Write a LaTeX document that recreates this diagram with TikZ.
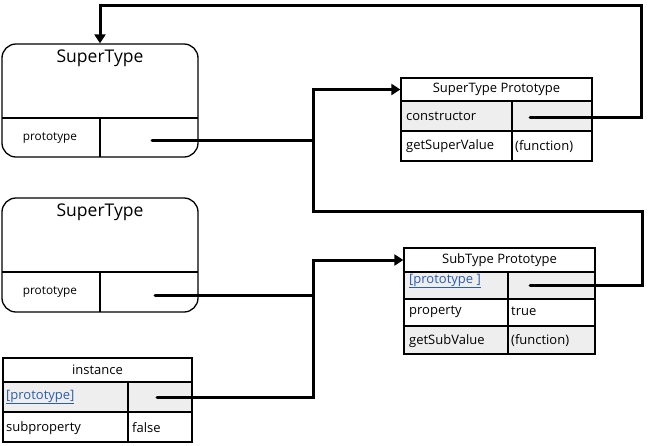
\documentclass[tikz,border=0pt]{standalone}
\usepackage{fontspec}
\setmainfont{Open Sans}
\usetikzlibrary{arrows.meta}
\definecolor{rowgray}{HTML}{EEEEEE}
\definecolor{linkblue}{HTML}{2A5DB0}
\begin{document}
\begin{tikzpicture}[x=1pt,y=-1pt,
  frame/.style={draw=black,line width=1.3pt,inner sep=0pt},
  cell/.style={draw=black,line width=1.3pt,inner sep=0pt},
  sep/.style={draw=black,line width=1.1pt},
  title/.style={font=\fontsize{17.5}{19}\selectfont},
  txt/.style={font=\fontsize{13}{15}\selectfont,inner sep=0pt},
  small/.style={font=\fontsize{11.8}{13}\selectfont,inner sep=0pt},
  lnk/.style={txt,text=linkblue},
  conn/.style={line width=3pt,line cap=round,line join=miter},
  arr/.style={-{Triangle[length=9pt,width=11pt]}}]
\useasboundingbox (0,0) rectangle (650,445);
\fill[white] (0,0) rectangle (650,445);

% ---- SuperType box 1
\node[frame,rounded corners=14pt,minimum width=196pt,minimum height=113pt] (st1) at (100,100.5) {};
\draw[sep] (2,118) -- (198,118);
\draw[sep] (100,118) -- (100,157);
\node[title] (st1t) at (100,58) {SuperType};
\node[small] (st1p) at (50,138) {prototype};
\coordinate (d1) at (152,140);

% ---- SuperType box 2
\node[frame,rounded corners=14pt,minimum width=196pt,minimum height=114pt] (st2) at (100,255) {};
\draw[sep] (2,272) -- (198,272);
\draw[sep] (100,272) -- (100,312);
\node[title] (st2t) at (100,212) {SuperType};
\node[small] (st2p) at (50,292) {prototype};
\coordinate (d2) at (155,295);

% ---- instance table
\node[cell,minimum width=189pt,minimum height=24pt] (ih) at (97.5,370) {};
\node[cell,fill=rowgray,minimum width=125pt,minimum height=30pt] (i1a) at (65.5,397) {};
\node[cell,fill=rowgray,minimum width=64pt,minimum height=30pt] (i1b) at (160,397) {};
\node[cell,minimum width=125pt,minimum height=30pt] (i2a) at (65.5,427) {};
\node[cell,minimum width=64pt,minimum height=30pt] (i2b) at (160,427) {};
\node[txt] at (ih) {instance};
\node[lnk,anchor=west] (i1t) at (6,397) {\underline{[prototype]}};
\node[txt,anchor=west] (i2t) at (6,428) {subproperty};
\node[txt,anchor=west] (i2v) at (132,428) {false};
\coordinate (d3) at (157,397);

% ---- SuperType Prototype table
\node[cell,minimum width=191pt,minimum height=23pt] (sph) at (496.5,89.5) {};
\node[cell,fill=rowgray,minimum width=111pt,minimum height=30pt] (sp1a) at (456.5,116) {};
\node[cell,fill=rowgray,minimum width=80pt,minimum height=30pt] (sp1b) at (552,116) {};
\node[cell,minimum width=111pt,minimum height=30pt] (sp2a) at (456.5,146) {};
\node[cell,minimum width=80pt,minimum height=30pt] (sp2b) at (552,146) {};
\node[txt] at (sph) {SuperType Prototype};
\node[txt,anchor=west] (sp1t) at (406,116.5) {constructor};
\node[txt,anchor=west] (sp2t) at (406,146.5) {getSuperValue};
\node[txt,anchor=west] (sp2v) at (515,146.5) {(function)};
\coordinate (d4) at (530,117);

% ---- SubType Prototype table
\node[cell,minimum width=191pt,minimum height=24pt] (sbh) at (499.5,260) {};
\node[cell,fill=rowgray,minimum width=104pt,minimum height=27pt] (sb1a) at (456,285.5) {};
\node[cell,fill=rowgray,minimum width=87pt,minimum height=27pt] (sb1b) at (551.5,285.5) {};
\node[cell,minimum width=104pt,minimum height=27pt] (sb2a) at (456,312.5) {};
\node[cell,minimum width=87pt,minimum height=27pt] (sb2b) at (551.5,312.5) {};
\node[cell,fill=rowgray,minimum width=104pt,minimum height=28pt] (sb3a) at (456,340) {};
\node[cell,fill=rowgray,minimum width=87pt,minimum height=28pt] (sb3b) at (551.5,340) {};
\node[txt] at (sbh) {SubType Prototype};
\node[lnk,anchor=west] (sb1t) at (409,281) {\underline{[prototype ]}};
\node[txt,anchor=west] (sb2t) at (409,311.5) {property};
\node[txt,anchor=west] (sb2v) at (511,311.5) {true};
\node[txt,anchor=west] (sb3t) at (409,341) {getSubValue};
\node[txt,anchor=west] (sb3v) at (511,341) {(function)};
\coordinate (d5) at (530,285);

% ---- connectors
\coordinate (j1) at (313,140);
\coordinate (j2) at (313,295);
\coordinate (c1) at (313,211);
\coordinate (c2) at (642,211);
\coordinate (c3) at (642,285);
\coordinate (t1) at (641,117);
\coordinate (t2) at (641,5);
\coordinate (t3) at (100,5);
\draw[conn] (d1) -- (j1);
\draw[conn,arr] (j1) |- (sph.west);
\draw[conn] (j1) -- (c1) -- (c2) -- (c3) -- (d5);
\draw[conn] (d2) -- (j2);
\draw[conn] (d3) -| (j2);
\draw[conn,arr] (j2) |- (sbh.west);
\draw[conn,arr] (d4) -- (t1) -- (t2) -- (t3) -- (st1.north);
\end{tikzpicture}
\end{document}
